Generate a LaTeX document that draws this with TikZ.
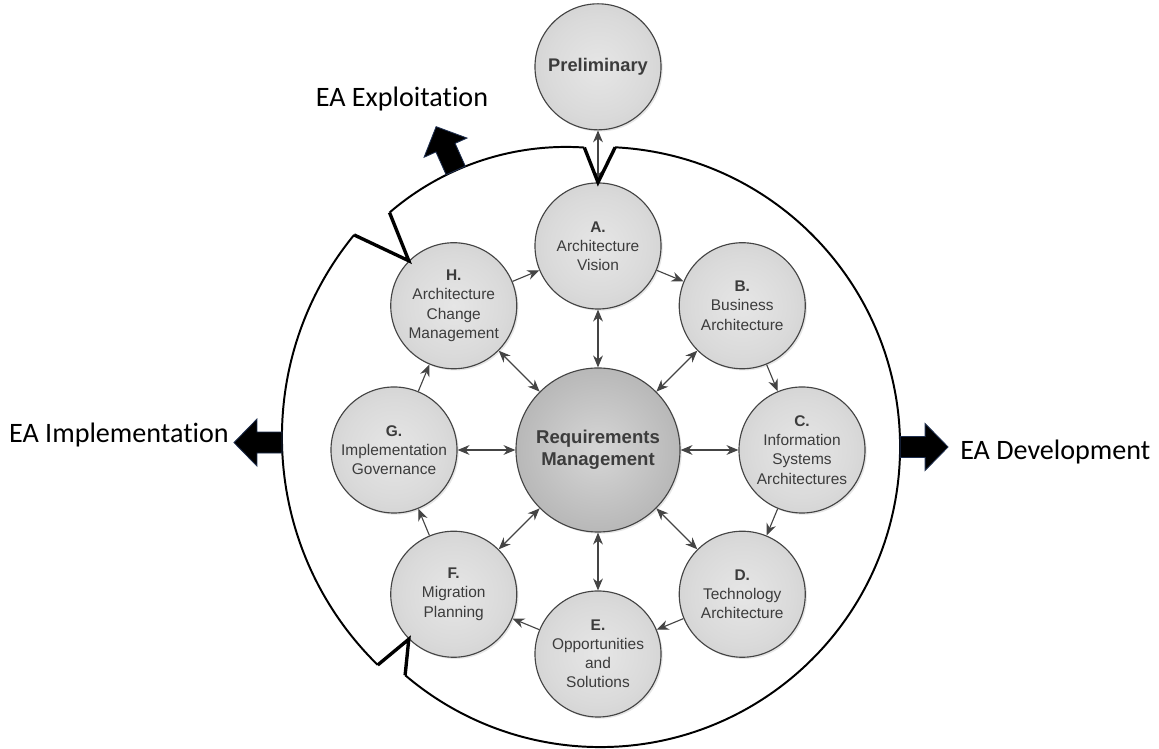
\documentclass[tikz,border=0pt]{standalone}
\usepackage{fontspec}
\setmainfont{Carlito}[Ligatures=CommonOff]
\newfontfamily\phasefont{Liberation Sans}
\usetikzlibrary{arrows.meta,positioning,shadows}

\definecolor{phasein}{HTML}{E6E6E6}
\definecolor{phasemid}{HTML}{DADADA}
\definecolor{phaseout}{HTML}{C0C0C0}
\definecolor{reqin}{HTML}{D6D6D6}
\definecolor{reqout}{HTML}{9A9A9A}
\definecolor{rimgray}{HTML}{444444}
\definecolor{phasetext}{HTML}{3C3C3C}
\definecolor{arrownavy}{HTML}{1F2F4F}

\pgfdeclareradialshading{phaseshade}{\pgfpoint{0bp}{0bp}}{color(0bp)=(phasein); color(20bp)=(phasemid); color(50bp)=(phaseout)}
\pgfdeclareradialshading{reqshade}{\pgfpoint{0bp}{0bp}}{color(0bp)=(reqin); color(50bp)=(reqout)}

\tikzset{
  phase/.style={circle, draw=rimgray, line width=0.8pt, shading=phaseshade, minimum size=3.15cm, inner sep=0pt, align=center, text=phasetext,
    font=\phasefont\fontsize{11}{13.6}\selectfont, drop shadow={shadow xshift=1.2pt, shadow yshift=-1.2pt, opacity=0.2}},
  prephase/.style={phase, font=\phasefont\bfseries\fontsize{13}{15}\selectfont},
  req/.style={phase, shading=reqshade, minimum size=4.1cm, font=\phasefont\bfseries\fontsize{13.2}{15.4}\selectfont},
  cyclearrow/.style={draw=rimgray, line width=0.8pt, ->},
  spoke/.style={draw=rimgray, line width=0.8pt, <->},
  ring/.style={line width=1.4pt},
  joint/.style={line width=2.4pt},
  ealabel/.style={inner sep=0pt, font=\fontsize{20}{22}\selectfont},
  blockarrow/.pic={\draw[fill=black, draw=arrownavy, line width=0.6pt] (0,-10.5) -- (25,-10.5) -- (25,-23.5) -- (48,0) -- (25,23.5) -- (25,10.5) -- (0,10.5) -- cycle;}
}

\begin{document}
\begin{tikzpicture}[x=0.025cm, y=0.025cm, >={Stealth[length=8.5pt,width=7pt]}]
\useasboundingbox (0,0) rectangle (1159,749);

% Central node and the eight phases
\node[req] (req) at (598,299) {Requirements\\Management};
\node[phase] (A) at ([shift={(90:204)}]req) {\textbf{A.}\\Architecture\\Vision};
\node[phase] (B) at ([shift={(45:204)}]req) {\textbf{B.}\\Business\\Architecture};
\node[phase] (C) at ([shift={(0:204)}]req) {\textbf{C.}\\Information\\Systems\\Architectures};
\node[phase] (D) at ([shift={(-45:204)}]req) {\textbf{D.}\\Technology\\Architecture};
\node[phase] (E) at ([shift={(-90:204)}]req) {\textbf{E.}\\Opportunities\\and\\Solutions};
\node[phase] (F) at ([shift={(-135:204)}]req) {\textbf{F.}\\Migration\\Planning};
\node[phase] (G) at ([shift={(180:204)}]req) {\textbf{G.}\\Implementation\\Governance};
\node[phase] (H) at ([shift={(135:204)}]req) {\textbf{H.}\\Architecture\\Change\\Management};

% Preliminary phase
\node[prephase, above=1.3cm of A] (pre) {Preliminary};

% Cycle arrows
\draw[cyclearrow] (A) -- (B);
\draw[cyclearrow] (B) -- (C);
\draw[cyclearrow] (C) -- (D);
\draw[cyclearrow] (D) -- (E);
\draw[cyclearrow] (E) -- (F);
\draw[cyclearrow] (F) -- (G);
\draw[cyclearrow] (G) -- (H);
\draw[cyclearrow] (H) -- (A);

% Spokes to requirements management
\draw[spoke] (req) -- (A);
\draw[spoke] (req) -- (B);
\draw[spoke] (req) -- (C);
\draw[spoke] (req) -- (D);
\draw[spoke] (req) -- (E);
\draw[spoke] (req) -- (F);
\draw[spoke] (req) -- (G);
\draw[spoke] (req) -- (H);
\draw[spoke] (A) -- (pre);

% Outer ring
\coordinate (devc) at (600,302);
\coordinate (expc) at (566,332);
\coordinate (impc) at (601,312);
\draw[ring] ([shift={(87.1:7.5cm)}]devc) coordinate (devtop) arc[start angle=87.1, end angle=-130.5, radius=7.5cm] coordinate (devend);
\draw[ring] ([shift={(86.1:6.75cm)}]expc) coordinate (exptop) arc[start angle=86.1, end angle=130.8, radius=6.75cm] coordinate (expend);
\draw[ring] ([shift={(140.7:7.975cm)}]impc) coordinate (imptop) arc[start angle=140.7, end angle=225.6, radius=7.975cm] coordinate (impend);

% Joints
\draw[joint, line join=miter] (exptop) -- (A.north) -- (devtop);
\draw[joint, line join=miter] (expend) -- (H.north west) -- (imptop);
\draw[joint, line join=miter] (impend) -- (F.south west) -- (devend);

% Block arrows
\pic at ([shift={(0:7.5cm)}]devc) {blockarrow};
\pic[rotate=180] at ([shift={(181:7.975cm)}]impc) {blockarrow};
\pic[rotate=114.1] at ([shift={(114.1:6.75cm)}]expc) {blockarrow};

% Labels
\node[ealabel, anchor=base] (explabel) at (402,642) {EA Exploitation};
\node[ealabel, anchor=base east] (implabel) at (229,306) {EA Implementation};
\node[ealabel, anchor=base west] (devlabel) at (960,289) {EA Development};
\end{tikzpicture}
\end{document}
